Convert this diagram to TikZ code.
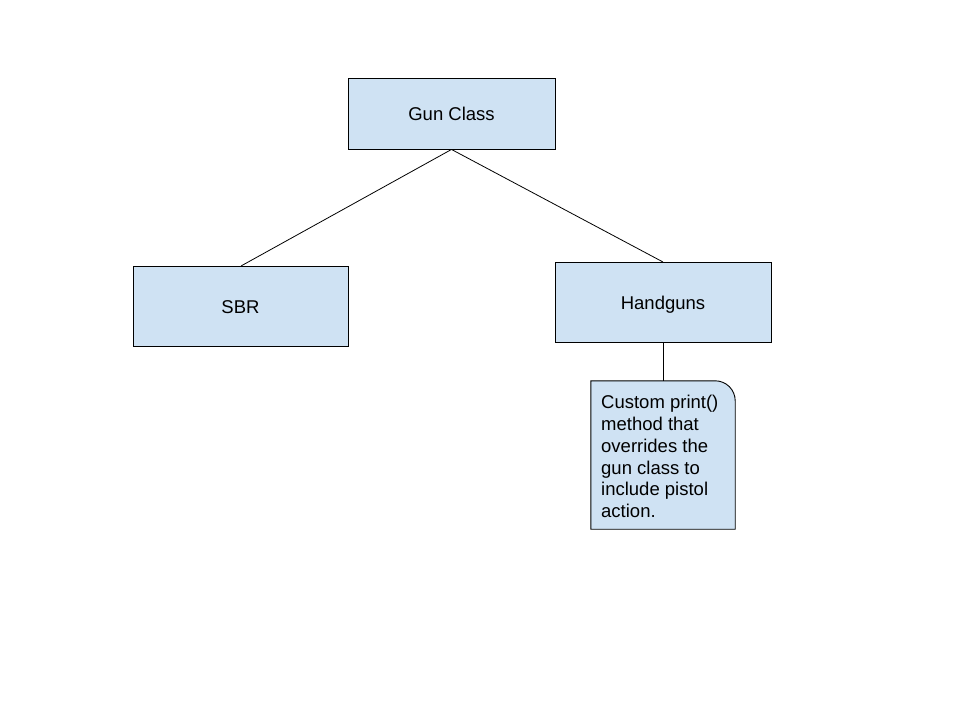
\documentclass[tikz,border=0pt]{standalone}
\usepackage{fontspec}
\setmainfont{Liberation Sans}
\usetikzlibrary{calc}
\begin{document}
\begin{tikzpicture}[x=1pt,y=-1pt,
  box/.style={draw=black,fill=boxblue,line width=0.9pt,minimum width=#1,inner sep=0pt,text height=15pt,text depth=1pt,font=\fontsize{18.5}{21.6}\selectfont},
  conn/.style={draw=black,line width=0.8pt}]
\definecolor{boxblue}{HTML}{CFE2F3}
\useasboundingbox (0,0) rectangle (960,720);
\node[box=207pt,minimum height=71pt] (gun) at (451.5,113.5) {Gun Class};
\node[box=215pt,minimum height=80pt] (sbr) at (240.5,306) {SBR};
\node[box=216pt,minimum height=80pt] (hand) at (663,302) {Handguns};
\node[inner sep=0pt,minimum width=144pt,minimum height=148pt] (note) at (663,455) {};
\draw[fill=boxblue,line width=0.9pt] (note.south west) -- (note.north west) -- ($(note.north east)+(-20,0)$) arc[start angle=270,end angle=360,radius=20] -- (note.south east) -- cycle;
\node[anchor=north west,align=left,inner sep=0pt,font=\fontsize{18.5}{21.8}\selectfont] (notetext) at (601,395) {Custom print()\\method that\\overrides the\\gun class to\\include pistol\\action.};
\draw[conn] (gun.south) -- (241,266);
\draw[conn] (gun.south) -- (663,262);
\draw[conn] (hand.south) -- (note.north);
\end{tikzpicture}
\end{document}
